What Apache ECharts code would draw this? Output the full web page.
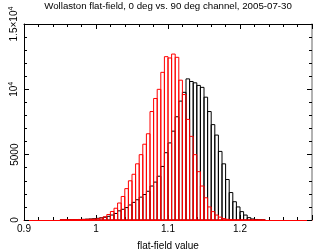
<!DOCTYPE html>
<html>
<head>
<meta charset="utf-8">
<script src="https://cdn.jsdelivr.net/npm/echarts@6/dist/echarts.min.js"></script>
<style>
html,body{margin:0;padding:0;background:#fff;}
#chart{width:314px;height:250px;}
</style>
</head>
<body>
<div id="chart"></div>
<script>
const titleText = 'Wollaston flat-field, 0 deg vs. 90 deg channel, 2005-07-30';
const xName = 'flat-field value';
const yName = 'n';
const binWidth = 0.005;
const binStarts = [0.950,0.955,0.960,0.965,0.970,0.975,0.980,0.985,0.990,0.995,
  1.000,1.005,1.010,1.015,1.020,1.025,1.030,1.035,1.040,1.045,
  1.050,1.055,1.060,1.065,1.070,1.075,1.080,1.085,1.090,1.095,
  1.100,1.105,1.110,1.115,1.120,1.125,1.130,1.135,1.140,1.145,
  1.150,1.155,1.160,1.165,1.170,1.175,1.180,1.185,1.190,1.195,
  1.200,1.205,1.210,1.215,1.220,1.225,1.230];
const blackCounts = [5,10,15,20,30,40,50,65,80,100,
  130,170,210,280,380,500,700,820,950,1150,
  1350,1550,1750,1950,2200,2600,2900,3350,4100,5150,
  5900,6800,7900,9100,9770,10800,10600,10500,10300,10150,
  9400,8300,7300,6500,5250,4300,3100,2100,1400,1000,
  640,380,180,80,40,20,10];
const redCounts = [10,15,15,20,25,30,40,50,60,70,
  90,150,250,420,650,900,1300,1800,2400,3000,
  3500,4300,5000,5800,6600,8300,9300,10000,11300,12500,
  12400,12700,12450,10700,9600,7700,6400,5000,3700,2600,
  1700,1000,640,380,220,110,55,25,10,0,
  0,0,0,0,0,0,0];
const xTickLabels = ['0.9','1','1.1','1.2',''];
const yTickLabels = ['0','5000','{t|10}{s|4}','{t|1.5×10}{s|4}'];

const FONT = 'Liberation Sans';
function toData(counts){
  return binStarts.map((s,i)=>[s, s+binWidth, counts[i]]);
}
function histSeries(counts, color){
  return {
    type:'custom',
    xAxisIndex:0, yAxisIndex:0,
    clip:true,
    data: toData(counts),
    encode:{x:[0,1], y:2},
    renderItem: function(params, api){
      const a = api.coord([api.value(0), api.value(2)]);
      const b = api.coord([api.value(1), 0]);
      return {type:'rect', shape:{x:a[0], y:a[1], width:b[0]-a[0], height:b[1]-a[1]},
        style:{fill:'none', stroke:color, lineWidth:1}};
    },
    silent:true
  };
}
const chart = echarts.init(document.getElementById('chart'), null, {renderer:'canvas'});
const tickCommon = {inside:true, length:5, lineStyle:{color:'#000', width:1}};
const minorCommon = {show:true, splitNumber:5, length:3, lineStyle:{color:'#000', width:1}};
chart.setOption({
  animation:false,
  backgroundColor:'#fff',
  title:{text:titleText, left:168, textAlign:'center', top:1, padding:0,
    textStyle:{fontFamily:FONT, fontSize:9.7, fontWeight:'normal', color:'#000'}},
  grid:{left:24, right:2, top:24, bottom:30, containLabel:false, outerBoundsMode:'none'},
  xAxis:[
    {type:'value', min:0.9, max:1.3, interval:0.1, position:'bottom',
      axisLine:{onZero:false, lineStyle:{color:'#ff0000', width:1}},
      axisTick:tickCommon, minorTick:minorCommon, splitLine:{show:false},
      axisLabel:{margin:4, fontFamily:FONT, fontSize:10, color:'#000',
        formatter:(v,i)=>xTickLabels[i] ?? ''},
      name:xName, nameLocation:'middle', nameGap:21,
      nameTextStyle:{fontFamily:FONT, fontSize:10, color:'#000'}},
    {type:'value', min:0.9, max:1.3, interval:0.1, position:'top',
      axisLine:{onZero:false, lineStyle:{color:'#000', width:1}},
      axisTick:tickCommon, minorTick:minorCommon, splitLine:{show:false},
      axisLabel:{show:false}}
  ],
  yAxis:[
    {type:'value', min:0, max:15000, interval:5000, position:'left',
      axisLine:{onZero:false, lineStyle:{color:'#000', width:1}},
      axisTick:tickCommon, minorTick:minorCommon, splitLine:{show:false},
      axisLabel:{rotate:90, margin:4, fontFamily:FONT, fontSize:10, color:'#000',
        formatter:(v,i)=>yTickLabels[i] ?? '',
        rich:{t:{fontFamily:FONT, fontSize:10, color:'#000', lineHeight:12},
              s:{fontFamily:FONT, fontSize:7, color:'#000', verticalAlign:'top', lineHeight:12}}},
      name:yName, nameLocation:'middle', nameGap:14, nameRotate:90,
      nameTextStyle:{fontFamily:FONT, fontSize:10, color:'#000'}},
    {type:'value', min:0, max:15000, interval:5000, position:'right',
      axisLine:{onZero:false, lineStyle:{color:'#999', width:1.5}},
      axisTick:tickCommon, minorTick:minorCommon, splitLine:{show:false},
      axisLabel:{show:false}}
  ],
  series:[histSeries(blackCounts,'#000000'), histSeries(redCounts,'#ff0000')]
});
</script>
</body>
</html>
